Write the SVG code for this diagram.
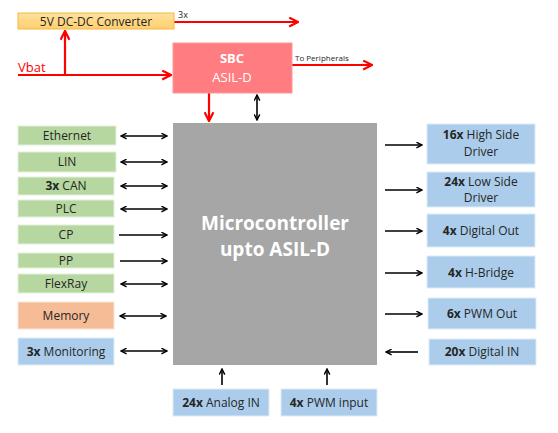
<svg xmlns="http://www.w3.org/2000/svg" width="558" height="433" viewBox="0 0 558 433">
<style>
text{font-family:"Open Sans","Liberation Sans",sans-serif;font-size:12px;fill:#262626;text-anchor:middle}
.g{fill:#B7D7A0;stroke:#E2EFDA;stroke-width:1}
.b{fill:#ABCDEB;stroke:#DDEBF7;stroke-width:1}
.o{fill:#F6BC96;stroke:#FBE5D6;stroke-width:1}
.k{stroke:#000;stroke-width:1.6;fill:none}
.r{stroke:#FF0000;stroke-width:2.2;fill:none}
.bold{font-weight:bold}
</style>
<defs>
<marker id="ak" viewBox="0 0 10 10" refX="9" refY="5" markerWidth="7" markerHeight="7" orient="auto-start-reverse" markerUnits="userSpaceOnUse"><path d="M1,1 L9,5 L1,9" fill="none" stroke="#000" stroke-width="2"/></marker>
<marker id="ar" viewBox="0 0 10 10" refX="9" refY="5" markerWidth="11" markerHeight="11" orient="auto" markerUnits="userSpaceOnUse"><path d="M1,1 L9,5 L1,9" fill="none" stroke="#FF0000" stroke-width="2"/></marker>
<linearGradient id="yg" x1="0" y1="0" x2="0" y2="1"><stop offset="0" stop-color="#FFE29E"/><stop offset="1" stop-color="#FFCE6E"/></linearGradient>
</defs>
<g id="connectors">
<path class="r" d="M174,22 H298" marker-end="url(#ar)"/>
<path class="r" d="M18,75 H171" marker-end="url(#ar)"/>
<path class="r" d="M65,75 V31" marker-end="url(#ar)"/>
<path class="r" d="M292,65 H372" marker-end="url(#ar)"/>
<path class="r" d="M209,93 V121" marker-end="url(#ar)"/>
<path class="k" d="M257,95 V120" marker-start="url(#ak)" marker-end="url(#ak)"/>
<path class="k" d="M121,136 H167" marker-start="url(#ak)" marker-end="url(#ak)"/>
<path class="k" d="M121,162 H167" marker-start="url(#ak)" marker-end="url(#ak)"/>
<path class="k" d="M121,186 H167" marker-start="url(#ak)" marker-end="url(#ak)"/>
<path class="k" d="M121,209 H167" marker-start="url(#ak)" marker-end="url(#ak)"/>
<path class="k" d="M119,235 H167" marker-end="url(#ak)"/>
<path class="k" d="M120,261 H167" marker-end="url(#ak)"/>
<path class="k" d="M121,284 H167" marker-start="url(#ak)" marker-end="url(#ak)"/>
<path class="k" d="M120,316 H166" marker-start="url(#ak)" marker-end="url(#ak)"/>
<path class="k" d="M121,351 H167" marker-start="url(#ak)" marker-end="url(#ak)"/>
<path class="k" d="M385,145 H422" marker-end="url(#ak)"/>
<path class="k" d="M385,190 H422" marker-end="url(#ak)"/>
<path class="k" d="M385,231 H422" marker-end="url(#ak)"/>
<path class="k" d="M385,273 H422" marker-end="url(#ak)"/>
<path class="k" d="M385,314 H422" marker-end="url(#ak)"/>
<path class="k" d="M418,352 H386" marker-end="url(#ak)"/>
<path class="k" d="M222,385 V369" marker-end="url(#ak)"/>
<path class="k" d="M327,385 V369" marker-end="url(#ak)"/>
</g>
<text x="178" y="18" style="font-size:9px;text-anchor:start">3x</text>
<text x="295" y="61" style="font-size:8px;text-anchor:start">To Peripherals</text>
<text x="18" y="72" style="font-size:13px;fill:#FF0000;text-anchor:start">Vbat</text>
<g id="dcdc"><rect x="18" y="13" width="156" height="16" fill="url(#yg)" stroke="#F4B942" stroke-width="1"/><text x="96" y="25.5">5V DC-DC Converter</text></g>
<g id="sbc"><rect x="173" y="43" width="119" height="50" fill="#FF7C80" stroke="#FF9999" stroke-width="1"/><text x="232" y="63" class="bold" style="fill:#fff;font-size:13px">SBC</text><text x="232" y="82" style="fill:#fff;font-size:13px">ASIL-D</text></g>
<g id="mcu"><rect x="173" y="123" width="204" height="242" fill="#A6A6A6"/><text x="275" y="230" class="bold" style="fill:#fff;font-size:19px">Microcontroller</text><text x="275" y="256" class="bold" style="fill:#fff;font-size:19px">upto ASIL-D</text></g>
<g id="ethernet"><rect class="g" x="18" y="126" width="98" height="19"/><text x="67" y="139.5">Ethernet</text></g>
<g id="lin"><rect class="g" x="18" y="152" width="98" height="20"/><text x="67" y="166">LIN</text></g>
<g id="can"><rect class="g" x="18" y="177" width="96" height="18"/><text x="66" y="190"><tspan class="bold">3x</tspan> CAN</text></g>
<g id="plc"><rect class="g" x="18" y="200" width="96" height="17"/><text x="66" y="212.5">PLC</text></g>
<g id="cp"><rect class="g" x="18" y="225" width="96" height="19"/><text x="66" y="238.5">CP</text></g>
<g id="pp"><rect class="g" x="18" y="253" width="96" height="15"/><text x="66" y="264.5">PP</text></g>
<g id="flexray"><rect class="g" x="18" y="274" width="96" height="19"/><text x="66" y="287.5">FlexRay</text></g>
<g id="memory"><rect class="o" x="18" y="302" width="96" height="27"/><text x="66" y="320">Memory</text></g>
<g id="monitoring"><rect class="b" x="18" y="338" width="96" height="27"/><text x="66" y="355.5"><tspan class="bold">3x</tspan> Monitoring</text></g>
<g id="highside"><rect class="b" x="427" y="124" width="108" height="40"/><text x="481" y="139"><tspan class="bold">16x</tspan> High Side</text><text x="481" y="156">Driver</text></g>
<g id="lowside"><rect class="b" x="427" y="172" width="108" height="35"/><text x="481" y="186"><tspan class="bold">24x</tspan> Low Side</text><text x="481" y="202">Driver</text></g>
<g id="digout"><rect class="b" x="427" y="214" width="108" height="33"/><text x="481" y="234.5"><tspan class="bold">4x</tspan> Digital Out</text></g>
<g id="hbridge"><rect class="b" x="427" y="256" width="108" height="32"/><text x="481" y="277"><tspan class="bold">4x</tspan> H-Bridge</text></g>
<g id="pwmout"><rect class="b" x="428" y="298" width="108" height="31"/><text x="482" y="318"><tspan class="bold">6x</tspan> PWM Out</text></g>
<g id="digin"><rect class="b" x="429" y="339" width="107" height="26"/><text x="482" y="356"><tspan class="bold">20x</tspan> Digital IN</text></g>
<g id="analogin"><rect class="b" x="173" y="389" width="96" height="27"/><text x="221" y="406.5"><tspan class="bold">24x</tspan> Analog IN</text></g>
<g id="pwmin"><rect class="b" x="281" y="389" width="96" height="27"/><text x="329" y="406.5"><tspan class="bold">4x</tspan> PWM input</text></g>
</svg>
